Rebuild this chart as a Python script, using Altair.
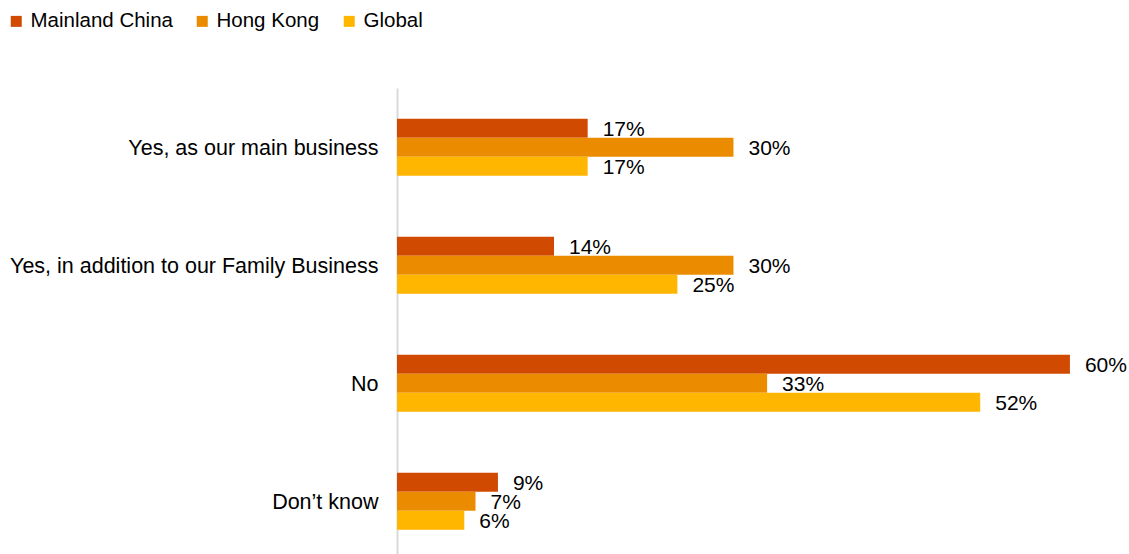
import altair as alt
import pandas as pd

categories = ["Yes, as our main business", "Yes, in addition to our Family Business", "No", "Don\u2019t know"]
series = ["Mainland China", "Hong Kong", "Global"]
mainland = [17, 14, 60, 9]
hongkong = [30, 30, 33, 7]
global_ = [17, 25, 52, 6]
colors = ["#D04A02", "#EB8C00", "#FFB600"]

rows = []
for i, c in enumerate(categories):
    for s, vals in zip(series, [mainland, hongkong, global_]):
        rows.append({"category": c, "series": s, "value": vals[i], "label": f"{vals[i]}%"})
df = pd.DataFrame(rows)

FONT = "Liberation Sans"
W = 729
H = 466

y_enc = alt.Y("category:N", sort=categories, title=None,
              scale=alt.Scale(paddingInner=0.517, paddingOuter=0.233, align=0.56),
              axis=alt.Axis(domain=True, domainColor="#D9D9D9", domainWidth=2, ticks=False,
                            labelFontSize=21.5, labelColor="#000000", labelFont=FONT,
                            labelPadding=19, labelOffset=2, labelLimit=500, grid=False))
yoff = alt.YOffset("series:N", sort=series, scale=alt.Scale(paddingInner=0, paddingOuter=0))
x_enc = alt.X("value:Q", scale=alt.Scale(domain=[0, 65], nice=False), axis=None)

bars = alt.Chart(df).mark_bar().encode(
    y=y_enc,
    yOffset=yoff,
    x=x_enc,
    color=alt.Color("series:N", sort=series,
                    scale=alt.Scale(domain=series, range=colors),
                    legend=alt.Legend(orient="none", legendX=-391, legendY=-77,
                                      direction="horizontal", title=None,
                                      symbolType="square", symbolSize=121,
                                      symbolStrokeWidth=0, labelFontSize=20.5,
                                      labelFont=FONT, labelColor="#000000",
                                      labelOffset=4, columnPadding=19, labelLimit=300)),
)

labels = alt.Chart(df).mark_text(align="left", baseline="middle", dx=15, dy=2,
                                 fontSize=21, font=FONT, color="#000000").encode(
    y=alt.Y("category:N", sort=categories),
    yOffset=alt.YOffset("series:N", sort=series),
    x=alt.X("value:Q"),
    text="label:N",
)

chart = alt.layer(bars, labels).properties(
    width=W, height=H,
    autosize=alt.AutoSizeParams(type="none"),
    padding={"left": 397, "top": 88, "right": 3, "bottom": 0},
).configure(background="white").configure_view(stroke=None, strokeWidth=0)

chart.save("out.html", embed_options={"renderer": "svg", "actions": False})
